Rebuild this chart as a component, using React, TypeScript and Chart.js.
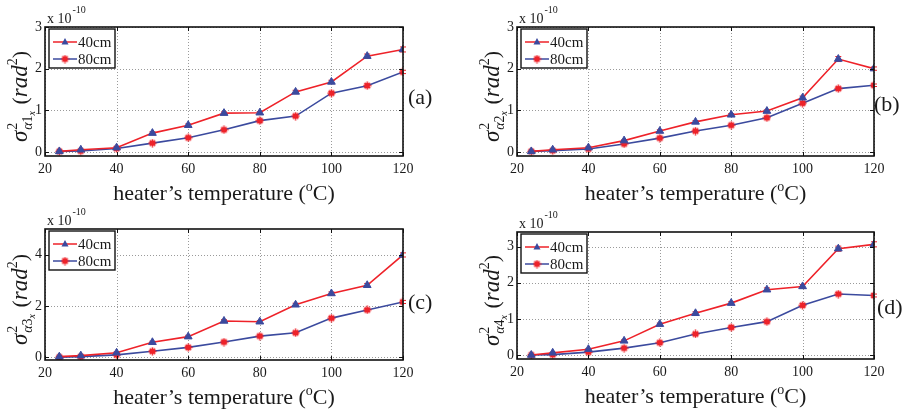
import React, { useEffect, useRef } from 'react';
import { Chart, registerables } from 'chart.js';
Chart.register(...registerables);

const temps = [24, 30, 40, 50, 60, 70, 80, 90, 100, 110, 120];
const xTicks = [20, 40, 60, 80, 100, 120];
const seriesLabels = ['40cm', '80cm'];

const a40 = [0.01, 0.05, 0.10, 0.45, 0.64, 0.93, 0.94, 1.44, 1.68, 2.30, 2.46];
const a80 = [0.01, 0.02, 0.08, 0.21, 0.34, 0.53, 0.75, 0.86, 1.41, 1.59, 1.92];
const b40 = [0.01, 0.05, 0.10, 0.27, 0.50, 0.72, 0.89, 0.98, 1.30, 2.23, 2.00];
const b80 = [0.01, 0.03, 0.07, 0.19, 0.33, 0.50, 0.64, 0.82, 1.17, 1.52, 1.60];
const c40 = [0.03, 0.07, 0.18, 0.59, 0.81, 1.42, 1.39, 2.05, 2.49, 2.81, 3.99];
const c80 = [0.01, 0.03, 0.10, 0.24, 0.39, 0.60, 0.83, 0.96, 1.53, 1.85, 2.16];
const d40 = [0.01, 0.07, 0.17, 0.40, 0.86, 1.16, 1.44, 1.81, 1.90, 2.94, 3.06];
const d80 = [0.01, 0.02, 0.09, 0.20, 0.35, 0.59, 0.77, 0.93, 1.38, 1.69, 1.65];

const ea40 = [0.01, 0.01, 0.02, 0.03, 0.03, 0.03, 0.03, 0.04, 0.04, 0.05, 0.06];
const ea80 = [0.01, 0.01, 0.01, 0.02, 0.02, 0.02, 0.03, 0.03, 0.03, 0.04, 0.04];
const eb40 = [0.01, 0.01, 0.02, 0.02, 0.03, 0.03, 0.03, 0.03, 0.04, 0.06, 0.04];
const eb80 = [0.01, 0.01, 0.01, 0.02, 0.02, 0.02, 0.02, 0.03, 0.03, 0.03, 0.03];
const ec40 = [0.02, 0.02, 0.03, 0.04, 0.05, 0.05, 0.05, 0.06, 0.06, 0.07, 0.08];
const ec80 = [0.01, 0.01, 0.02, 0.03, 0.03, 0.04, 0.04, 0.04, 0.05, 0.05, 0.06];
const ed40 = [0.01, 0.01, 0.02, 0.03, 0.03, 0.04, 0.04, 0.05, 0.05, 0.07, 0.07];
const ed80 = [0.01, 0.01, 0.02, 0.02, 0.03, 0.03, 0.03, 0.03, 0.04, 0.04, 0.04];

const yTicksA = [0, 1, 2, 3];
const yTicksB = [0, 1, 2, 3];
const yTicksC = [0, 2, 4];
const yTicksD = [0, 1, 2, 3];

const panelLabels = ['(a)', '(b)', '(c)', '(d)'];
const yIndex = ['1', '2', '3', '4'];
const xTitle = ['heater\u2019s temperature (', 'o', 'C)'];
const scaleText = ['x 10', '-10'];

const RED = '#ee2229';
const BLUE = '#3b4a9e';
const SERIF = "'Liberation Serif', 'Times New Roman', serif";

type Panel = {
  cx: number; cy: number; cw: number; ch: number;
  left: number; right: number; top: number; bottom: number;
  ymin: number; ymax: number; yTicks: number[];
  s40: number[]; s80: number[]; e40: number[]; e80: number[];
  labelX: number; labelY: number; idx: number;
};

const panels: Panel[] = [
  { cx: 0, cy: 0, cw: 453, ch: 206, left: 45, right: 403, top: 27, bottom: 156, ymin: -0.1, ymax: 3, yTicks: yTicksA, s40: a40, s80: a80, e40: ea40, e80: ea80, labelX: 408, labelY: 98, idx: 0 },
  { cx: 453, cy: 0, cw: 454, ch: 206, left: 517, right: 874, top: 27, bottom: 156, ymin: -0.1, ymax: 3, yTicks: yTicksB, s40: b40, s80: b80, e40: eb40, e80: eb80, labelX: 874, labelY: 105, idx: 1 },
  { cx: 0, cy: 206, cw: 453, ch: 206, left: 45, right: 403, top: 229, bottom: 360, ymin: -0.1, ymax: 5, yTicks: yTicksC, s40: c40, s80: c80, e40: ec40, e80: ec80, labelX: 408, labelY: 303, idx: 2 },
  { cx: 453, cy: 206, cw: 454, ch: 206, left: 517, right: 874, top: 232, bottom: 359, ymin: -0.1, ymax: 3.4, yTicks: yTicksD, s40: d40, s80: d80, e40: ed40, e80: ed80, labelX: 877, labelY: 308, idx: 3 },
];

function makeStarMarker(): HTMLCanvasElement {
  const c = document.createElement('canvas');
  c.width = 9; c.height = 9;
  const g = c.getContext('2d')!;
  g.fillStyle = RED;
  g.strokeStyle = RED;
  g.beginPath(); g.arc(4.5, 4.5, 2.6, 0, Math.PI * 2); g.fill();
  g.lineWidth = 1.6;
  g.beginPath();
  g.moveTo(0.5, 4.5); g.lineTo(8.5, 4.5);
  g.moveTo(4.5, 0.5); g.lineTo(4.5, 8.5);
  g.moveTo(1.8, 1.8); g.lineTo(7.2, 7.2);
  g.moveTo(7.2, 1.8); g.lineTo(1.8, 7.2);
  g.stroke();
  return c;
}

function makePlugin(p: Panel, star: HTMLCanvasElement) {
  return {
    id: 'decor' + p.idx,
    beforeDatasetsDraw(chart: any) {
      const ctx = chart.ctx;
      const a = chart.chartArea;
      const xs = chart.scales.x, ys = chart.scales.y;
      ctx.save();
      // dotted grid
      ctx.strokeStyle = '#9a9a9a';
      ctx.lineWidth = 1;
      ctx.setLineDash([1, 2]);
      ctx.beginPath();
      xTicks.forEach(v => {
        const x = Math.round(xs.getPixelForValue(v)) + 0.5;
        ctx.moveTo(x, a.top); ctx.lineTo(x, a.bottom);
      });
      p.yTicks.forEach(v => {
        const y = Math.round(ys.getPixelForValue(v)) + 0.5;
        ctx.moveTo(a.left, y); ctx.lineTo(a.right, y);
      });
      ctx.stroke();
      ctx.setLineDash([]);
      // error bars
      const errs = [p.e40, p.e80];
      const vals = [p.s40, p.s80];
      ctx.strokeStyle = RED;
      ctx.lineWidth = 1;
      for (let s = 0; s < 2; s++) {
        for (let i = 0; i < temps.length; i++) {
          const x = xs.getPixelForValue(temps[i]);
          const y1 = ys.getPixelForValue(vals[s][i] + errs[s][i]);
          const y2 = ys.getPixelForValue(vals[s][i] - errs[s][i]);
          ctx.beginPath();
          ctx.moveTo(x, y1); ctx.lineTo(x, y2);
          ctx.moveTo(x - 3, y1); ctx.lineTo(x + 3, y1);
          ctx.moveTo(x - 3, y2); ctx.lineTo(x + 3, y2);
          ctx.stroke();
        }
      }
      ctx.restore();
    },
    afterDraw(chart: any) {
      const ctx = chart.ctx;
      const a = chart.chartArea;
      const xs = chart.scales.x, ys = chart.scales.y;
      const ox = p.cx, oy = p.cy;
      ctx.save();
      // inward ticks
      ctx.strokeStyle = '#111';
      ctx.lineWidth = 1;
      ctx.beginPath();
      xTicks.forEach(v => {
        const x = Math.round(xs.getPixelForValue(v)) + 0.5;
        ctx.moveTo(x, a.bottom); ctx.lineTo(x, a.bottom - 4);
        ctx.moveTo(x, a.top); ctx.lineTo(x, a.top + 4);
      });
      p.yTicks.forEach(v => {
        const y = Math.round(ys.getPixelForValue(v)) + 0.5;
        ctx.moveTo(a.left, y); ctx.lineTo(a.left + 4, y);
        ctx.moveTo(a.right, y); ctx.lineTo(a.right - 4, y);
      });
      ctx.stroke();
      // frame
      ctx.lineWidth = 1.6;
      ctx.strokeStyle = '#111';
      ctx.strokeRect(a.left, a.top, a.right - a.left, a.bottom - a.top);

      ctx.fillStyle = '#1a1a1a';
      // scale factor text
      ctx.textBaseline = 'alphabetic';
      ctx.textAlign = 'left';
      ctx.font = `14px ${SERIF}`;
      ctx.fillText(scaleText[0], a.left + 2, a.top - 4);
      const w0 = ctx.measureText(scaleText[0]).width;
      ctx.font = `10px ${SERIF}`;
      ctx.fillText(scaleText[1], a.left + 3 + w0, a.top - 14);

      // x title
      ctx.font = `22px ${SERIF}`;
      const t0 = xTitle[0], t2 = xTitle[2];
      const wA = ctx.measureText(t0).width;
      ctx.font = `14px ${SERIF}`;
      const wB = ctx.measureText(xTitle[1]).width;
      ctx.font = `22px ${SERIF}`;
      const wC = ctx.measureText(t2).width;
      const total = wA + wB + wC;
      const cxm = (a.left + a.right) / 2;
      const base = a.bottom + 44;
      let xx = cxm - total / 2;
      ctx.fillText(t0, xx, base); xx += wA;
      ctx.font = `14px ${SERIF}`;
      ctx.fillText(xTitle[1], xx, base - 9); xx += wB;
      ctx.font = `22px ${SERIF}`;
      ctx.fillText(t2, xx, base);

      // panel label
      ctx.textBaseline = 'middle';
      ctx.font = `22px ${SERIF}`;
      ctx.fillText(panelLabels[p.idx], p.labelX - ox, p.labelY - oy);

      // y label (rotated rich text)
      const bigI = `italic 23px ${SERIF}`;
      const big = `22px ${SERIF}`;
      const sm = `14px ${SERIF}`;
      const smI = `italic 14px ${SERIF}`;
      const xs2 = `italic 10px ${SERIF}`;
      ctx.save();
      ctx.translate(a.left - 18, (a.top + a.bottom) / 2 + 5);
      ctx.rotate(-Math.PI / 2);
      ctx.textBaseline = 'alphabetic';
      const measure = (f: string, t: string) => { ctx.font = f; return ctx.measureText(t).width; };
      const wSig = measure(bigI, '\u03c3');
      const wSup = measure(sm, '2');
      const wSubA = measure(smI, '\u03b1') + measure(sm, yIndex[p.idx]);
      const wSubX = measure(xs2, 'x');
      const wSub = wSubA + wSubX;
      const wRest = measure(big, ' (') + measure(bigI, 'rad') + measure(sm, '2') + measure(big, ')');
      const tot = wSig + Math.max(wSup, wSub) + 2 + wRest;
      let u = -tot / 2;
      const put = (f: string, t: string, dy: number) => { ctx.font = f; ctx.fillText(t, u, dy); return ctx.measureText(t).width; };
      u += put(bigI, '\u03c3', 0) + 1;
      const u0 = u;
      put(sm, '2', -10);
      u = u0;
      u += put(smI, '\u03b1', 5);
      u += put(sm, yIndex[p.idx], 5);
      u += put(xs2, 'x', 8);
      u = u0 + Math.max(wSup, wSub) + 1;
      u += put(big, ' (', 0);
      u += put(bigI, 'rad', 0);
      u += put(sm, '2', -10);
      u += put(big, ')', 0);
      ctx.restore();

      // legend
      const lx = a.left + 4, ly = a.top + 2, lw = 66, lh = 39;
      ctx.fillStyle = '#fff';
      ctx.fillRect(lx, ly, lw, lh);
      ctx.lineWidth = 1.4;
      ctx.strokeStyle = '#111';
      ctx.strokeRect(lx, ly, lw, lh);
      chart.data.datasets.forEach((ds: any, i: number) => {
        const ry = ly + 13 + i * 17;
        ctx.strokeStyle = ds.borderColor;
        ctx.lineWidth = 1.5;
        ctx.beginPath();
        ctx.moveTo(lx + 4, ry); ctx.lineTo(lx + 28, ry);
        ctx.stroke();
        if (ds.pointStyle === 'triangle') {
          ctx.fillStyle = ds.pointBackgroundColor;
          ctx.beginPath();
          ctx.moveTo(lx + 16, ry - 4);
          ctx.lineTo(lx + 19.5, ry + 2.5);
          ctx.lineTo(lx + 12.5, ry + 2.5);
          ctx.closePath();
          ctx.fill();
        } else {
          ctx.drawImage(star, lx + 16 - 4.5, ry - 4.5);
        }
        ctx.fillStyle = '#1a1a1a';
        ctx.font = `15px ${SERIF}`;
        ctx.textBaseline = 'middle';
        ctx.fillText(ds.label, lx + 29, ry + 1);
      });
      ctx.restore();
    },
  };
}

function PanelChart({ p }: { p: Panel }) {
  const ref = useRef<HTMLCanvasElement | null>(null);
  useEffect(() => {
    if (!ref.current) return;
    const star = makeStarMarker();
    const padTop = p.top - p.cy;
    const padRight = p.cx + p.cw - p.right;
    const yW = p.left - p.cx;
    const xH = p.cy + p.ch - p.bottom;
    const tickFont = { family: SERIF, size: 14 };
    const chart = new Chart(ref.current, {
      type: 'line',
      data: {
        datasets: [
          {
            label: seriesLabels[0],
            data: temps.map((t, i) => ({ x: t, y: p.s40[i] })),
            borderColor: RED,
            borderWidth: 1.6,
            pointStyle: 'triangle',
            pointRadius: 4.5,
            pointBackgroundColor: BLUE,
            pointBorderColor: BLUE,
            pointBorderWidth: 1,
            tension: 0,
          } as any,
          {
            label: seriesLabels[1],
            data: temps.map((t, i) => ({ x: t, y: p.s80[i] })),
            borderColor: BLUE,
            borderWidth: 1.6,
            pointStyle: star,
            pointRadius: 4,
            pointBackgroundColor: RED,
            pointBorderColor: RED,
            tension: 0,
          } as any,
        ],
      },
      options: {
        responsive: false,
        animation: false,
        devicePixelRatio: 1,
        layout: { padding: { left: 0, top: padTop, right: padRight, bottom: 0 }, autoPadding: false } as any,
        plugins: { legend: { display: false }, tooltip: { enabled: false } },
        scales: {
          x: {
            type: 'linear', min: 20, max: 120,
            afterFit: (s: any) => { s.height = xH; },
            afterBuildTicks: (s: any) => { s.ticks = xTicks.map(v => ({ value: v })); },
            grid: { display: false, drawTicks: false },
            border: { display: false },
            ticks: { padding: 5, font: tickFont, color: '#1a1a1a', maxRotation: 0, autoSkip: false },
          },
          y: {
            type: 'linear', min: p.ymin, max: p.ymax,
            afterFit: (s: any) => { s.width = yW; },
            afterBuildTicks: (s: any) => { s.ticks = p.yTicks.map(v => ({ value: v })); },
            grid: { display: false, drawTicks: false },
            border: { display: false },
            ticks: { padding: 3, font: tickFont, color: '#1a1a1a', autoSkip: false },
          },
        },
      } as any,
      plugins: [makePlugin(p, star)],
    });
    return () => chart.destroy();
  }, [p]);
  return (
    <canvas
      ref={ref}
      width={p.cw}
      height={p.ch}
      style={{ position: 'absolute', left: p.cx, top: p.cy, width: p.cw, height: p.ch }}
    />
  );
}

export default function App() {
  return (
    <div style={{ position: 'fixed', left: 0, top: 0, width: 907, height: 412, background: '#fff', overflow: 'hidden' }}>
      {panels.map(p => <PanelChart key={p.idx} p={p} />)}
    </div>
  );
}
